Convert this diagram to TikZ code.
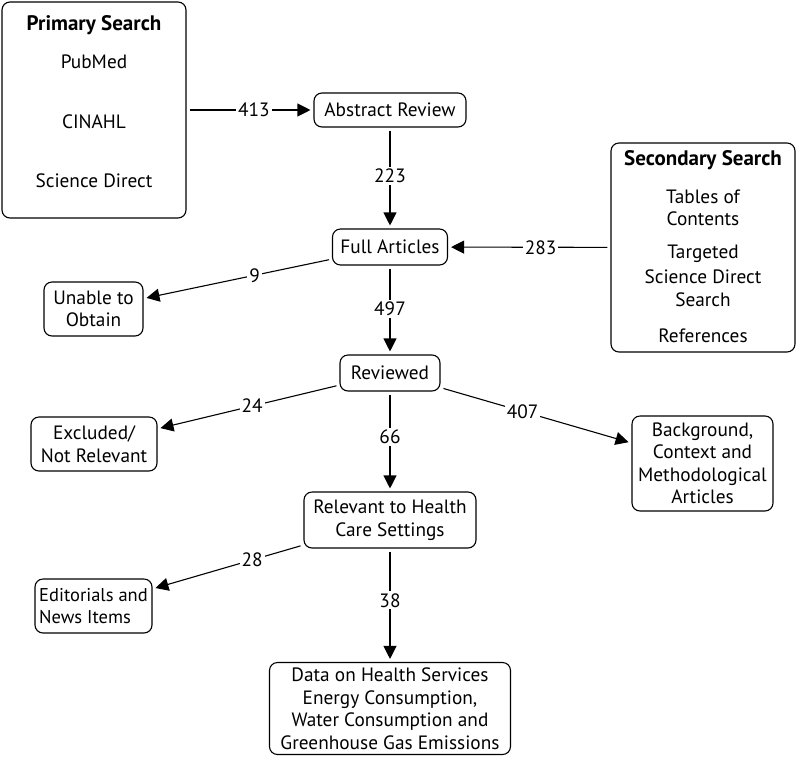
\documentclass[tikz,border=0pt]{standalone}
\usepackage{fontspec}
\setmainfont{PT Sans}
\usetikzlibrary{arrows.meta}
\begin{document}
\begin{tikzpicture}[x=1pt,y=-1pt,
  every node/.append style={font=\fontsize{19.3}{22.5}\selectfont},
  box/.style={draw,rounded corners=8pt,line width=1.1pt,align=center,inner sep=0pt},
  ttl/.style={anchor=base,font=\bfseries\fontsize{21}{22}\selectfont},
  itm/.style={anchor=base},
  lbl/.style={fill=white,inner sep=2pt},
  arr/.style={line width=1.1pt,-{Triangle[length=13pt,width=13pt]},shorten <=3pt,shorten >=3pt}]
\useasboundingbox (0,0) rectangle (797,758);

% Primary search
\node[box,minimum width=184pt,minimum height=216pt] (primary) at (94,110) {};
\node[ttl] (ptitle) at (94,30) {Primary Search};
\node[itm] (pubmed) at (94,68) {PubMed};
\node[itm] (cinahl) at (94,128) {CINAHL};
\node[itm] (scidir) at (94,187) {Science Direct};

% Secondary search
\node[box,minimum width=184pt,minimum height=209pt] (secondary) at (703,247.5) {};
\node[ttl] (stitle) at (703,165) {Secondary Search};
\node[itm] (s1) at (703,203) {Tables of};
\node[itm] (s2) at (703,225) {Contents};
\node[itm] (s3) at (703,258) {Targeted};
\node[itm] (s4) at (703,283) {Science Direct};
\node[itm] (s5) at (703,306) {Search};
\node[itm] (s6) at (703,342) {References};

% Main column
\node[box,minimum width=152pt,minimum height=34pt] (abstract) at (390,110) {Abstract Review};
\node[box,minimum width=115pt,minimum height=36pt] (full) at (390,247) {Full Articles};
\node[box,minimum width=100pt,minimum height=36pt] (reviewed) at (390,373) {Reviewed};
\node[box,minimum width=172pt,minimum height=56pt] (relevant) at (390,520) {Relevant to Health\\Care Settings};
\node[box,minimum width=241pt,minimum height=92pt] (data) at (390,708.5) {Data on Health Services\\Energy Consumption,\\Water Consumption and\\Greenhouse Gas Emissions};

% Side boxes
\node[box,minimum width=99pt,minimum height=54pt] (unable) at (93.5,309) {Unable to\\Obtain};
\node[box,minimum width=126pt,minimum height=54pt] (excluded) at (94,444) {Excluded/\\Not Relevant};
\node[box,minimum width=141pt,minimum height=95pt] (background) at (702.5,463.5) {Background,\\Context and\\Methodological\\Articles};
\node[box,align=left,minimum width=117pt,minimum height=54pt,font=\fontsize{18.5}{22.5}\selectfont] (editorials) at (93.5,606) {Editorials and\\News Items};

% Connectors
\draw[arr] (primary) -- node[lbl,pos=0.53] (l413) {413} (abstract);
\draw[arr] (abstract) -- node[lbl,pos=0.48] (l223) {223} (full);
\draw[arr] (secondary) -- node[lbl,pos=0.43] (l283) {283} (full);
\draw[arr] (full) -- node[lbl,pos=0.41] (l9) {9} (unable);
\draw[arr] (full) -- node[lbl,pos=0.49] (l497) {497} (reviewed);
\draw[arr] (reviewed) -- node[lbl,pos=0.48] (l24) {24} (excluded);
\draw[arr] (reviewed) -- node[lbl,pos=0.455] (l66) {66} (relevant);
\draw[arr] (reviewed) -- node[lbl,pos=0.43] (l407) {407} (background);
\draw[arr] (relevant) -- node[lbl,pos=0.34] (l28) {28} (editorials);
\draw[arr] (relevant) -- node[lbl,pos=0.456] (l38) {38} (data);
\end{tikzpicture}
\end{document}
